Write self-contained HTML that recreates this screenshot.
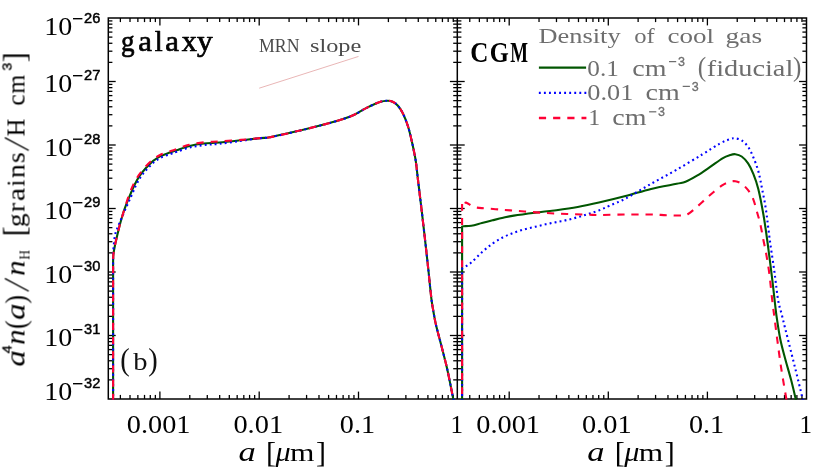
<!DOCTYPE html>
<html><head><meta charset="utf-8"><title>chart</title>
<style>html,body{margin:0;padding:0;background:#fff;}svg{display:block;}text{font-kerning:none;}</style></head>
<body>
<svg width="830" height="470" viewBox="0 0 830 470">
<defs>
<clipPath id="clipL"><rect x="108.3" y="18.0" width="349.00" height="381.70"/></clipPath>
<clipPath id="clipR"><rect x="457.3" y="18.0" width="349.20" height="381.70"/></clipPath>
</defs>
<rect x="0" y="0" width="830" height="470" fill="#fff"/>
<g opacity="0.999">
<line x1="259.20" y1="88.20" x2="358.50" y2="56.45" stroke="#e3a3a3" stroke-width="0.8" />
<rect x="108.3" y="18.0" width="698.20" height="381.00" fill="none" stroke="#000" stroke-width="1.5"/>
<line x1="457.30" y1="18.00" x2="457.30" y2="399.00" stroke="#000" stroke-width="1.5" />
<line x1="120.38" y1="399.00" x2="120.38" y2="394.90" stroke="#000" stroke-width="1.3" />
<line x1="120.38" y1="18.00" x2="120.38" y2="22.10" stroke="#000" stroke-width="1.3" />
<line x1="130.01" y1="399.00" x2="130.01" y2="394.90" stroke="#000" stroke-width="1.3" />
<line x1="130.01" y1="18.00" x2="130.01" y2="22.10" stroke="#000" stroke-width="1.3" />
<line x1="137.87" y1="399.00" x2="137.87" y2="394.90" stroke="#000" stroke-width="1.3" />
<line x1="137.87" y1="18.00" x2="137.87" y2="22.10" stroke="#000" stroke-width="1.3" />
<line x1="144.52" y1="399.00" x2="144.52" y2="394.90" stroke="#000" stroke-width="1.3" />
<line x1="144.52" y1="18.00" x2="144.52" y2="22.10" stroke="#000" stroke-width="1.3" />
<line x1="150.28" y1="399.00" x2="150.28" y2="394.90" stroke="#000" stroke-width="1.3" />
<line x1="150.28" y1="18.00" x2="150.28" y2="22.10" stroke="#000" stroke-width="1.3" />
<line x1="155.36" y1="399.00" x2="155.36" y2="394.90" stroke="#000" stroke-width="1.3" />
<line x1="155.36" y1="18.00" x2="155.36" y2="22.10" stroke="#000" stroke-width="1.3" />
<line x1="159.90" y1="399.00" x2="159.90" y2="391.60" stroke="#000" stroke-width="1.3" />
<line x1="159.90" y1="18.00" x2="159.90" y2="25.40" stroke="#000" stroke-width="1.3" />
<line x1="189.79" y1="399.00" x2="189.79" y2="394.90" stroke="#000" stroke-width="1.3" />
<line x1="189.79" y1="18.00" x2="189.79" y2="22.10" stroke="#000" stroke-width="1.3" />
<line x1="207.28" y1="399.00" x2="207.28" y2="394.90" stroke="#000" stroke-width="1.3" />
<line x1="207.28" y1="18.00" x2="207.28" y2="22.10" stroke="#000" stroke-width="1.3" />
<line x1="219.68" y1="399.00" x2="219.68" y2="394.90" stroke="#000" stroke-width="1.3" />
<line x1="219.68" y1="18.00" x2="219.68" y2="22.10" stroke="#000" stroke-width="1.3" />
<line x1="229.31" y1="399.00" x2="229.31" y2="394.90" stroke="#000" stroke-width="1.3" />
<line x1="229.31" y1="18.00" x2="229.31" y2="22.10" stroke="#000" stroke-width="1.3" />
<line x1="237.17" y1="399.00" x2="237.17" y2="394.90" stroke="#000" stroke-width="1.3" />
<line x1="237.17" y1="18.00" x2="237.17" y2="22.10" stroke="#000" stroke-width="1.3" />
<line x1="243.82" y1="399.00" x2="243.82" y2="394.90" stroke="#000" stroke-width="1.3" />
<line x1="243.82" y1="18.00" x2="243.82" y2="22.10" stroke="#000" stroke-width="1.3" />
<line x1="249.58" y1="399.00" x2="249.58" y2="394.90" stroke="#000" stroke-width="1.3" />
<line x1="249.58" y1="18.00" x2="249.58" y2="22.10" stroke="#000" stroke-width="1.3" />
<line x1="254.66" y1="399.00" x2="254.66" y2="394.90" stroke="#000" stroke-width="1.3" />
<line x1="254.66" y1="18.00" x2="254.66" y2="22.10" stroke="#000" stroke-width="1.3" />
<line x1="259.20" y1="399.00" x2="259.20" y2="391.60" stroke="#000" stroke-width="1.3" />
<line x1="259.20" y1="18.00" x2="259.20" y2="25.40" stroke="#000" stroke-width="1.3" />
<line x1="289.09" y1="399.00" x2="289.09" y2="394.90" stroke="#000" stroke-width="1.3" />
<line x1="289.09" y1="18.00" x2="289.09" y2="22.10" stroke="#000" stroke-width="1.3" />
<line x1="306.58" y1="399.00" x2="306.58" y2="394.90" stroke="#000" stroke-width="1.3" />
<line x1="306.58" y1="18.00" x2="306.58" y2="22.10" stroke="#000" stroke-width="1.3" />
<line x1="318.98" y1="399.00" x2="318.98" y2="394.90" stroke="#000" stroke-width="1.3" />
<line x1="318.98" y1="18.00" x2="318.98" y2="22.10" stroke="#000" stroke-width="1.3" />
<line x1="328.61" y1="399.00" x2="328.61" y2="394.90" stroke="#000" stroke-width="1.3" />
<line x1="328.61" y1="18.00" x2="328.61" y2="22.10" stroke="#000" stroke-width="1.3" />
<line x1="336.47" y1="399.00" x2="336.47" y2="394.90" stroke="#000" stroke-width="1.3" />
<line x1="336.47" y1="18.00" x2="336.47" y2="22.10" stroke="#000" stroke-width="1.3" />
<line x1="343.12" y1="399.00" x2="343.12" y2="394.90" stroke="#000" stroke-width="1.3" />
<line x1="343.12" y1="18.00" x2="343.12" y2="22.10" stroke="#000" stroke-width="1.3" />
<line x1="348.88" y1="399.00" x2="348.88" y2="394.90" stroke="#000" stroke-width="1.3" />
<line x1="348.88" y1="18.00" x2="348.88" y2="22.10" stroke="#000" stroke-width="1.3" />
<line x1="353.96" y1="399.00" x2="353.96" y2="394.90" stroke="#000" stroke-width="1.3" />
<line x1="353.96" y1="18.00" x2="353.96" y2="22.10" stroke="#000" stroke-width="1.3" />
<line x1="358.50" y1="399.00" x2="358.50" y2="391.60" stroke="#000" stroke-width="1.3" />
<line x1="358.50" y1="18.00" x2="358.50" y2="25.40" stroke="#000" stroke-width="1.3" />
<line x1="388.39" y1="399.00" x2="388.39" y2="394.90" stroke="#000" stroke-width="1.3" />
<line x1="388.39" y1="18.00" x2="388.39" y2="22.10" stroke="#000" stroke-width="1.3" />
<line x1="405.88" y1="399.00" x2="405.88" y2="394.90" stroke="#000" stroke-width="1.3" />
<line x1="405.88" y1="18.00" x2="405.88" y2="22.10" stroke="#000" stroke-width="1.3" />
<line x1="418.28" y1="399.00" x2="418.28" y2="394.90" stroke="#000" stroke-width="1.3" />
<line x1="418.28" y1="18.00" x2="418.28" y2="22.10" stroke="#000" stroke-width="1.3" />
<line x1="427.91" y1="399.00" x2="427.91" y2="394.90" stroke="#000" stroke-width="1.3" />
<line x1="427.91" y1="18.00" x2="427.91" y2="22.10" stroke="#000" stroke-width="1.3" />
<line x1="435.77" y1="399.00" x2="435.77" y2="394.90" stroke="#000" stroke-width="1.3" />
<line x1="435.77" y1="18.00" x2="435.77" y2="22.10" stroke="#000" stroke-width="1.3" />
<line x1="442.42" y1="399.00" x2="442.42" y2="394.90" stroke="#000" stroke-width="1.3" />
<line x1="442.42" y1="18.00" x2="442.42" y2="22.10" stroke="#000" stroke-width="1.3" />
<line x1="448.18" y1="399.00" x2="448.18" y2="394.90" stroke="#000" stroke-width="1.3" />
<line x1="448.18" y1="18.00" x2="448.18" y2="22.10" stroke="#000" stroke-width="1.3" />
<line x1="453.26" y1="399.00" x2="453.26" y2="394.90" stroke="#000" stroke-width="1.3" />
<line x1="453.26" y1="18.00" x2="453.26" y2="22.10" stroke="#000" stroke-width="1.3" />
<line x1="469.76" y1="399.00" x2="469.76" y2="394.90" stroke="#000" stroke-width="1.3" />
<line x1="469.76" y1="18.00" x2="469.76" y2="22.10" stroke="#000" stroke-width="1.3" />
<line x1="479.37" y1="399.00" x2="479.37" y2="394.90" stroke="#000" stroke-width="1.3" />
<line x1="479.37" y1="18.00" x2="479.37" y2="22.10" stroke="#000" stroke-width="1.3" />
<line x1="487.21" y1="399.00" x2="487.21" y2="394.90" stroke="#000" stroke-width="1.3" />
<line x1="487.21" y1="18.00" x2="487.21" y2="22.10" stroke="#000" stroke-width="1.3" />
<line x1="493.85" y1="399.00" x2="493.85" y2="394.90" stroke="#000" stroke-width="1.3" />
<line x1="493.85" y1="18.00" x2="493.85" y2="22.10" stroke="#000" stroke-width="1.3" />
<line x1="499.60" y1="399.00" x2="499.60" y2="394.90" stroke="#000" stroke-width="1.3" />
<line x1="499.60" y1="18.00" x2="499.60" y2="22.10" stroke="#000" stroke-width="1.3" />
<line x1="504.67" y1="399.00" x2="504.67" y2="394.90" stroke="#000" stroke-width="1.3" />
<line x1="504.67" y1="18.00" x2="504.67" y2="22.10" stroke="#000" stroke-width="1.3" />
<line x1="509.20" y1="399.00" x2="509.20" y2="391.60" stroke="#000" stroke-width="1.3" />
<line x1="509.20" y1="18.00" x2="509.20" y2="25.40" stroke="#000" stroke-width="1.3" />
<line x1="539.03" y1="399.00" x2="539.03" y2="394.90" stroke="#000" stroke-width="1.3" />
<line x1="539.03" y1="18.00" x2="539.03" y2="22.10" stroke="#000" stroke-width="1.3" />
<line x1="556.48" y1="399.00" x2="556.48" y2="394.90" stroke="#000" stroke-width="1.3" />
<line x1="556.48" y1="18.00" x2="556.48" y2="22.10" stroke="#000" stroke-width="1.3" />
<line x1="568.86" y1="399.00" x2="568.86" y2="394.90" stroke="#000" stroke-width="1.3" />
<line x1="568.86" y1="18.00" x2="568.86" y2="22.10" stroke="#000" stroke-width="1.3" />
<line x1="578.47" y1="399.00" x2="578.47" y2="394.90" stroke="#000" stroke-width="1.3" />
<line x1="578.47" y1="18.00" x2="578.47" y2="22.10" stroke="#000" stroke-width="1.3" />
<line x1="586.31" y1="399.00" x2="586.31" y2="394.90" stroke="#000" stroke-width="1.3" />
<line x1="586.31" y1="18.00" x2="586.31" y2="22.10" stroke="#000" stroke-width="1.3" />
<line x1="592.95" y1="399.00" x2="592.95" y2="394.90" stroke="#000" stroke-width="1.3" />
<line x1="592.95" y1="18.00" x2="592.95" y2="22.10" stroke="#000" stroke-width="1.3" />
<line x1="598.70" y1="399.00" x2="598.70" y2="394.90" stroke="#000" stroke-width="1.3" />
<line x1="598.70" y1="18.00" x2="598.70" y2="22.10" stroke="#000" stroke-width="1.3" />
<line x1="603.77" y1="399.00" x2="603.77" y2="394.90" stroke="#000" stroke-width="1.3" />
<line x1="603.77" y1="18.00" x2="603.77" y2="22.10" stroke="#000" stroke-width="1.3" />
<line x1="608.30" y1="399.00" x2="608.30" y2="391.60" stroke="#000" stroke-width="1.3" />
<line x1="608.30" y1="18.00" x2="608.30" y2="25.40" stroke="#000" stroke-width="1.3" />
<line x1="638.13" y1="399.00" x2="638.13" y2="394.90" stroke="#000" stroke-width="1.3" />
<line x1="638.13" y1="18.00" x2="638.13" y2="22.10" stroke="#000" stroke-width="1.3" />
<line x1="655.58" y1="399.00" x2="655.58" y2="394.90" stroke="#000" stroke-width="1.3" />
<line x1="655.58" y1="18.00" x2="655.58" y2="22.10" stroke="#000" stroke-width="1.3" />
<line x1="667.96" y1="399.00" x2="667.96" y2="394.90" stroke="#000" stroke-width="1.3" />
<line x1="667.96" y1="18.00" x2="667.96" y2="22.10" stroke="#000" stroke-width="1.3" />
<line x1="677.57" y1="399.00" x2="677.57" y2="394.90" stroke="#000" stroke-width="1.3" />
<line x1="677.57" y1="18.00" x2="677.57" y2="22.10" stroke="#000" stroke-width="1.3" />
<line x1="685.41" y1="399.00" x2="685.41" y2="394.90" stroke="#000" stroke-width="1.3" />
<line x1="685.41" y1="18.00" x2="685.41" y2="22.10" stroke="#000" stroke-width="1.3" />
<line x1="692.05" y1="399.00" x2="692.05" y2="394.90" stroke="#000" stroke-width="1.3" />
<line x1="692.05" y1="18.00" x2="692.05" y2="22.10" stroke="#000" stroke-width="1.3" />
<line x1="697.80" y1="399.00" x2="697.80" y2="394.90" stroke="#000" stroke-width="1.3" />
<line x1="697.80" y1="18.00" x2="697.80" y2="22.10" stroke="#000" stroke-width="1.3" />
<line x1="702.87" y1="399.00" x2="702.87" y2="394.90" stroke="#000" stroke-width="1.3" />
<line x1="702.87" y1="18.00" x2="702.87" y2="22.10" stroke="#000" stroke-width="1.3" />
<line x1="707.40" y1="399.00" x2="707.40" y2="391.60" stroke="#000" stroke-width="1.3" />
<line x1="707.40" y1="18.00" x2="707.40" y2="25.40" stroke="#000" stroke-width="1.3" />
<line x1="737.23" y1="399.00" x2="737.23" y2="394.90" stroke="#000" stroke-width="1.3" />
<line x1="737.23" y1="18.00" x2="737.23" y2="22.10" stroke="#000" stroke-width="1.3" />
<line x1="754.68" y1="399.00" x2="754.68" y2="394.90" stroke="#000" stroke-width="1.3" />
<line x1="754.68" y1="18.00" x2="754.68" y2="22.10" stroke="#000" stroke-width="1.3" />
<line x1="767.06" y1="399.00" x2="767.06" y2="394.90" stroke="#000" stroke-width="1.3" />
<line x1="767.06" y1="18.00" x2="767.06" y2="22.10" stroke="#000" stroke-width="1.3" />
<line x1="776.67" y1="399.00" x2="776.67" y2="394.90" stroke="#000" stroke-width="1.3" />
<line x1="776.67" y1="18.00" x2="776.67" y2="22.10" stroke="#000" stroke-width="1.3" />
<line x1="784.51" y1="399.00" x2="784.51" y2="394.90" stroke="#000" stroke-width="1.3" />
<line x1="784.51" y1="18.00" x2="784.51" y2="22.10" stroke="#000" stroke-width="1.3" />
<line x1="791.15" y1="399.00" x2="791.15" y2="394.90" stroke="#000" stroke-width="1.3" />
<line x1="791.15" y1="18.00" x2="791.15" y2="22.10" stroke="#000" stroke-width="1.3" />
<line x1="796.90" y1="399.00" x2="796.90" y2="394.90" stroke="#000" stroke-width="1.3" />
<line x1="796.90" y1="18.00" x2="796.90" y2="22.10" stroke="#000" stroke-width="1.3" />
<line x1="801.97" y1="399.00" x2="801.97" y2="394.90" stroke="#000" stroke-width="1.3" />
<line x1="801.97" y1="18.00" x2="801.97" y2="22.10" stroke="#000" stroke-width="1.3" />
<line x1="108.30" y1="379.88" x2="112.40" y2="379.88" stroke="#000" stroke-width="1.3" />
<line x1="453.20" y1="379.88" x2="461.40" y2="379.88" stroke="#000" stroke-width="1.3" />
<line x1="802.40" y1="379.88" x2="806.50" y2="379.88" stroke="#000" stroke-width="1.3" />
<line x1="108.30" y1="368.70" x2="112.40" y2="368.70" stroke="#000" stroke-width="1.3" />
<line x1="453.20" y1="368.70" x2="461.40" y2="368.70" stroke="#000" stroke-width="1.3" />
<line x1="802.40" y1="368.70" x2="806.50" y2="368.70" stroke="#000" stroke-width="1.3" />
<line x1="108.30" y1="360.77" x2="112.40" y2="360.77" stroke="#000" stroke-width="1.3" />
<line x1="453.20" y1="360.77" x2="461.40" y2="360.77" stroke="#000" stroke-width="1.3" />
<line x1="802.40" y1="360.77" x2="806.50" y2="360.77" stroke="#000" stroke-width="1.3" />
<line x1="108.30" y1="354.62" x2="112.40" y2="354.62" stroke="#000" stroke-width="1.3" />
<line x1="453.20" y1="354.62" x2="461.40" y2="354.62" stroke="#000" stroke-width="1.3" />
<line x1="802.40" y1="354.62" x2="806.50" y2="354.62" stroke="#000" stroke-width="1.3" />
<line x1="108.30" y1="349.59" x2="112.40" y2="349.59" stroke="#000" stroke-width="1.3" />
<line x1="453.20" y1="349.59" x2="461.40" y2="349.59" stroke="#000" stroke-width="1.3" />
<line x1="802.40" y1="349.59" x2="806.50" y2="349.59" stroke="#000" stroke-width="1.3" />
<line x1="108.30" y1="345.34" x2="112.40" y2="345.34" stroke="#000" stroke-width="1.3" />
<line x1="453.20" y1="345.34" x2="461.40" y2="345.34" stroke="#000" stroke-width="1.3" />
<line x1="802.40" y1="345.34" x2="806.50" y2="345.34" stroke="#000" stroke-width="1.3" />
<line x1="108.30" y1="341.65" x2="112.40" y2="341.65" stroke="#000" stroke-width="1.3" />
<line x1="453.20" y1="341.65" x2="461.40" y2="341.65" stroke="#000" stroke-width="1.3" />
<line x1="802.40" y1="341.65" x2="806.50" y2="341.65" stroke="#000" stroke-width="1.3" />
<line x1="108.30" y1="338.41" x2="112.40" y2="338.41" stroke="#000" stroke-width="1.3" />
<line x1="453.20" y1="338.41" x2="461.40" y2="338.41" stroke="#000" stroke-width="1.3" />
<line x1="802.40" y1="338.41" x2="806.50" y2="338.41" stroke="#000" stroke-width="1.3" />
<line x1="108.30" y1="335.50" x2="115.70" y2="335.50" stroke="#000" stroke-width="1.3" />
<line x1="449.90" y1="335.50" x2="464.70" y2="335.50" stroke="#000" stroke-width="1.3" />
<line x1="799.10" y1="335.50" x2="806.50" y2="335.50" stroke="#000" stroke-width="1.3" />
<line x1="108.30" y1="316.38" x2="112.40" y2="316.38" stroke="#000" stroke-width="1.3" />
<line x1="453.20" y1="316.38" x2="461.40" y2="316.38" stroke="#000" stroke-width="1.3" />
<line x1="802.40" y1="316.38" x2="806.50" y2="316.38" stroke="#000" stroke-width="1.3" />
<line x1="108.30" y1="305.20" x2="112.40" y2="305.20" stroke="#000" stroke-width="1.3" />
<line x1="453.20" y1="305.20" x2="461.40" y2="305.20" stroke="#000" stroke-width="1.3" />
<line x1="802.40" y1="305.20" x2="806.50" y2="305.20" stroke="#000" stroke-width="1.3" />
<line x1="108.30" y1="297.27" x2="112.40" y2="297.27" stroke="#000" stroke-width="1.3" />
<line x1="453.20" y1="297.27" x2="461.40" y2="297.27" stroke="#000" stroke-width="1.3" />
<line x1="802.40" y1="297.27" x2="806.50" y2="297.27" stroke="#000" stroke-width="1.3" />
<line x1="108.30" y1="291.12" x2="112.40" y2="291.12" stroke="#000" stroke-width="1.3" />
<line x1="453.20" y1="291.12" x2="461.40" y2="291.12" stroke="#000" stroke-width="1.3" />
<line x1="802.40" y1="291.12" x2="806.50" y2="291.12" stroke="#000" stroke-width="1.3" />
<line x1="108.30" y1="286.09" x2="112.40" y2="286.09" stroke="#000" stroke-width="1.3" />
<line x1="453.20" y1="286.09" x2="461.40" y2="286.09" stroke="#000" stroke-width="1.3" />
<line x1="802.40" y1="286.09" x2="806.50" y2="286.09" stroke="#000" stroke-width="1.3" />
<line x1="108.30" y1="281.84" x2="112.40" y2="281.84" stroke="#000" stroke-width="1.3" />
<line x1="453.20" y1="281.84" x2="461.40" y2="281.84" stroke="#000" stroke-width="1.3" />
<line x1="802.40" y1="281.84" x2="806.50" y2="281.84" stroke="#000" stroke-width="1.3" />
<line x1="108.30" y1="278.15" x2="112.40" y2="278.15" stroke="#000" stroke-width="1.3" />
<line x1="453.20" y1="278.15" x2="461.40" y2="278.15" stroke="#000" stroke-width="1.3" />
<line x1="802.40" y1="278.15" x2="806.50" y2="278.15" stroke="#000" stroke-width="1.3" />
<line x1="108.30" y1="274.91" x2="112.40" y2="274.91" stroke="#000" stroke-width="1.3" />
<line x1="453.20" y1="274.91" x2="461.40" y2="274.91" stroke="#000" stroke-width="1.3" />
<line x1="802.40" y1="274.91" x2="806.50" y2="274.91" stroke="#000" stroke-width="1.3" />
<line x1="108.30" y1="272.00" x2="115.70" y2="272.00" stroke="#000" stroke-width="1.3" />
<line x1="449.90" y1="272.00" x2="464.70" y2="272.00" stroke="#000" stroke-width="1.3" />
<line x1="799.10" y1="272.00" x2="806.50" y2="272.00" stroke="#000" stroke-width="1.3" />
<line x1="108.30" y1="252.88" x2="112.40" y2="252.88" stroke="#000" stroke-width="1.3" />
<line x1="453.20" y1="252.88" x2="461.40" y2="252.88" stroke="#000" stroke-width="1.3" />
<line x1="802.40" y1="252.88" x2="806.50" y2="252.88" stroke="#000" stroke-width="1.3" />
<line x1="108.30" y1="241.70" x2="112.40" y2="241.70" stroke="#000" stroke-width="1.3" />
<line x1="453.20" y1="241.70" x2="461.40" y2="241.70" stroke="#000" stroke-width="1.3" />
<line x1="802.40" y1="241.70" x2="806.50" y2="241.70" stroke="#000" stroke-width="1.3" />
<line x1="108.30" y1="233.77" x2="112.40" y2="233.77" stroke="#000" stroke-width="1.3" />
<line x1="453.20" y1="233.77" x2="461.40" y2="233.77" stroke="#000" stroke-width="1.3" />
<line x1="802.40" y1="233.77" x2="806.50" y2="233.77" stroke="#000" stroke-width="1.3" />
<line x1="108.30" y1="227.62" x2="112.40" y2="227.62" stroke="#000" stroke-width="1.3" />
<line x1="453.20" y1="227.62" x2="461.40" y2="227.62" stroke="#000" stroke-width="1.3" />
<line x1="802.40" y1="227.62" x2="806.50" y2="227.62" stroke="#000" stroke-width="1.3" />
<line x1="108.30" y1="222.59" x2="112.40" y2="222.59" stroke="#000" stroke-width="1.3" />
<line x1="453.20" y1="222.59" x2="461.40" y2="222.59" stroke="#000" stroke-width="1.3" />
<line x1="802.40" y1="222.59" x2="806.50" y2="222.59" stroke="#000" stroke-width="1.3" />
<line x1="108.30" y1="218.34" x2="112.40" y2="218.34" stroke="#000" stroke-width="1.3" />
<line x1="453.20" y1="218.34" x2="461.40" y2="218.34" stroke="#000" stroke-width="1.3" />
<line x1="802.40" y1="218.34" x2="806.50" y2="218.34" stroke="#000" stroke-width="1.3" />
<line x1="108.30" y1="214.65" x2="112.40" y2="214.65" stroke="#000" stroke-width="1.3" />
<line x1="453.20" y1="214.65" x2="461.40" y2="214.65" stroke="#000" stroke-width="1.3" />
<line x1="802.40" y1="214.65" x2="806.50" y2="214.65" stroke="#000" stroke-width="1.3" />
<line x1="108.30" y1="211.41" x2="112.40" y2="211.41" stroke="#000" stroke-width="1.3" />
<line x1="453.20" y1="211.41" x2="461.40" y2="211.41" stroke="#000" stroke-width="1.3" />
<line x1="802.40" y1="211.41" x2="806.50" y2="211.41" stroke="#000" stroke-width="1.3" />
<line x1="108.30" y1="208.50" x2="115.70" y2="208.50" stroke="#000" stroke-width="1.3" />
<line x1="449.90" y1="208.50" x2="464.70" y2="208.50" stroke="#000" stroke-width="1.3" />
<line x1="799.10" y1="208.50" x2="806.50" y2="208.50" stroke="#000" stroke-width="1.3" />
<line x1="108.30" y1="189.38" x2="112.40" y2="189.38" stroke="#000" stroke-width="1.3" />
<line x1="453.20" y1="189.38" x2="461.40" y2="189.38" stroke="#000" stroke-width="1.3" />
<line x1="802.40" y1="189.38" x2="806.50" y2="189.38" stroke="#000" stroke-width="1.3" />
<line x1="108.30" y1="178.20" x2="112.40" y2="178.20" stroke="#000" stroke-width="1.3" />
<line x1="453.20" y1="178.20" x2="461.40" y2="178.20" stroke="#000" stroke-width="1.3" />
<line x1="802.40" y1="178.20" x2="806.50" y2="178.20" stroke="#000" stroke-width="1.3" />
<line x1="108.30" y1="170.27" x2="112.40" y2="170.27" stroke="#000" stroke-width="1.3" />
<line x1="453.20" y1="170.27" x2="461.40" y2="170.27" stroke="#000" stroke-width="1.3" />
<line x1="802.40" y1="170.27" x2="806.50" y2="170.27" stroke="#000" stroke-width="1.3" />
<line x1="108.30" y1="164.12" x2="112.40" y2="164.12" stroke="#000" stroke-width="1.3" />
<line x1="453.20" y1="164.12" x2="461.40" y2="164.12" stroke="#000" stroke-width="1.3" />
<line x1="802.40" y1="164.12" x2="806.50" y2="164.12" stroke="#000" stroke-width="1.3" />
<line x1="108.30" y1="159.09" x2="112.40" y2="159.09" stroke="#000" stroke-width="1.3" />
<line x1="453.20" y1="159.09" x2="461.40" y2="159.09" stroke="#000" stroke-width="1.3" />
<line x1="802.40" y1="159.09" x2="806.50" y2="159.09" stroke="#000" stroke-width="1.3" />
<line x1="108.30" y1="154.84" x2="112.40" y2="154.84" stroke="#000" stroke-width="1.3" />
<line x1="453.20" y1="154.84" x2="461.40" y2="154.84" stroke="#000" stroke-width="1.3" />
<line x1="802.40" y1="154.84" x2="806.50" y2="154.84" stroke="#000" stroke-width="1.3" />
<line x1="108.30" y1="151.15" x2="112.40" y2="151.15" stroke="#000" stroke-width="1.3" />
<line x1="453.20" y1="151.15" x2="461.40" y2="151.15" stroke="#000" stroke-width="1.3" />
<line x1="802.40" y1="151.15" x2="806.50" y2="151.15" stroke="#000" stroke-width="1.3" />
<line x1="108.30" y1="147.91" x2="112.40" y2="147.91" stroke="#000" stroke-width="1.3" />
<line x1="453.20" y1="147.91" x2="461.40" y2="147.91" stroke="#000" stroke-width="1.3" />
<line x1="802.40" y1="147.91" x2="806.50" y2="147.91" stroke="#000" stroke-width="1.3" />
<line x1="108.30" y1="145.00" x2="115.70" y2="145.00" stroke="#000" stroke-width="1.3" />
<line x1="449.90" y1="145.00" x2="464.70" y2="145.00" stroke="#000" stroke-width="1.3" />
<line x1="799.10" y1="145.00" x2="806.50" y2="145.00" stroke="#000" stroke-width="1.3" />
<line x1="108.30" y1="125.88" x2="112.40" y2="125.88" stroke="#000" stroke-width="1.3" />
<line x1="453.20" y1="125.88" x2="461.40" y2="125.88" stroke="#000" stroke-width="1.3" />
<line x1="802.40" y1="125.88" x2="806.50" y2="125.88" stroke="#000" stroke-width="1.3" />
<line x1="108.30" y1="114.70" x2="112.40" y2="114.70" stroke="#000" stroke-width="1.3" />
<line x1="453.20" y1="114.70" x2="461.40" y2="114.70" stroke="#000" stroke-width="1.3" />
<line x1="802.40" y1="114.70" x2="806.50" y2="114.70" stroke="#000" stroke-width="1.3" />
<line x1="108.30" y1="106.77" x2="112.40" y2="106.77" stroke="#000" stroke-width="1.3" />
<line x1="453.20" y1="106.77" x2="461.40" y2="106.77" stroke="#000" stroke-width="1.3" />
<line x1="802.40" y1="106.77" x2="806.50" y2="106.77" stroke="#000" stroke-width="1.3" />
<line x1="108.30" y1="100.62" x2="112.40" y2="100.62" stroke="#000" stroke-width="1.3" />
<line x1="453.20" y1="100.62" x2="461.40" y2="100.62" stroke="#000" stroke-width="1.3" />
<line x1="802.40" y1="100.62" x2="806.50" y2="100.62" stroke="#000" stroke-width="1.3" />
<line x1="108.30" y1="95.59" x2="112.40" y2="95.59" stroke="#000" stroke-width="1.3" />
<line x1="453.20" y1="95.59" x2="461.40" y2="95.59" stroke="#000" stroke-width="1.3" />
<line x1="802.40" y1="95.59" x2="806.50" y2="95.59" stroke="#000" stroke-width="1.3" />
<line x1="108.30" y1="91.34" x2="112.40" y2="91.34" stroke="#000" stroke-width="1.3" />
<line x1="453.20" y1="91.34" x2="461.40" y2="91.34" stroke="#000" stroke-width="1.3" />
<line x1="802.40" y1="91.34" x2="806.50" y2="91.34" stroke="#000" stroke-width="1.3" />
<line x1="108.30" y1="87.65" x2="112.40" y2="87.65" stroke="#000" stroke-width="1.3" />
<line x1="453.20" y1="87.65" x2="461.40" y2="87.65" stroke="#000" stroke-width="1.3" />
<line x1="802.40" y1="87.65" x2="806.50" y2="87.65" stroke="#000" stroke-width="1.3" />
<line x1="108.30" y1="84.41" x2="112.40" y2="84.41" stroke="#000" stroke-width="1.3" />
<line x1="453.20" y1="84.41" x2="461.40" y2="84.41" stroke="#000" stroke-width="1.3" />
<line x1="802.40" y1="84.41" x2="806.50" y2="84.41" stroke="#000" stroke-width="1.3" />
<line x1="108.30" y1="81.50" x2="115.70" y2="81.50" stroke="#000" stroke-width="1.3" />
<line x1="449.90" y1="81.50" x2="464.70" y2="81.50" stroke="#000" stroke-width="1.3" />
<line x1="799.10" y1="81.50" x2="806.50" y2="81.50" stroke="#000" stroke-width="1.3" />
<line x1="108.30" y1="62.38" x2="112.40" y2="62.38" stroke="#000" stroke-width="1.3" />
<line x1="453.20" y1="62.38" x2="461.40" y2="62.38" stroke="#000" stroke-width="1.3" />
<line x1="802.40" y1="62.38" x2="806.50" y2="62.38" stroke="#000" stroke-width="1.3" />
<line x1="108.30" y1="51.20" x2="112.40" y2="51.20" stroke="#000" stroke-width="1.3" />
<line x1="453.20" y1="51.20" x2="461.40" y2="51.20" stroke="#000" stroke-width="1.3" />
<line x1="802.40" y1="51.20" x2="806.50" y2="51.20" stroke="#000" stroke-width="1.3" />
<line x1="108.30" y1="43.27" x2="112.40" y2="43.27" stroke="#000" stroke-width="1.3" />
<line x1="453.20" y1="43.27" x2="461.40" y2="43.27" stroke="#000" stroke-width="1.3" />
<line x1="802.40" y1="43.27" x2="806.50" y2="43.27" stroke="#000" stroke-width="1.3" />
<line x1="108.30" y1="37.12" x2="112.40" y2="37.12" stroke="#000" stroke-width="1.3" />
<line x1="453.20" y1="37.12" x2="461.40" y2="37.12" stroke="#000" stroke-width="1.3" />
<line x1="802.40" y1="37.12" x2="806.50" y2="37.12" stroke="#000" stroke-width="1.3" />
<line x1="108.30" y1="32.09" x2="112.40" y2="32.09" stroke="#000" stroke-width="1.3" />
<line x1="453.20" y1="32.09" x2="461.40" y2="32.09" stroke="#000" stroke-width="1.3" />
<line x1="802.40" y1="32.09" x2="806.50" y2="32.09" stroke="#000" stroke-width="1.3" />
<line x1="108.30" y1="27.84" x2="112.40" y2="27.84" stroke="#000" stroke-width="1.3" />
<line x1="453.20" y1="27.84" x2="461.40" y2="27.84" stroke="#000" stroke-width="1.3" />
<line x1="802.40" y1="27.84" x2="806.50" y2="27.84" stroke="#000" stroke-width="1.3" />
<line x1="108.30" y1="24.15" x2="112.40" y2="24.15" stroke="#000" stroke-width="1.3" />
<line x1="453.20" y1="24.15" x2="461.40" y2="24.15" stroke="#000" stroke-width="1.3" />
<line x1="802.40" y1="24.15" x2="806.50" y2="24.15" stroke="#000" stroke-width="1.3" />
<line x1="108.30" y1="20.91" x2="112.40" y2="20.91" stroke="#000" stroke-width="1.3" />
<line x1="453.20" y1="20.91" x2="461.40" y2="20.91" stroke="#000" stroke-width="1.3" />
<line x1="802.40" y1="20.91" x2="806.50" y2="20.91" stroke="#000" stroke-width="1.3" />
<g clip-path="url(#clipL)">
<path d="M113.10,401.00 L113.10,264.00 L113.10,262.00 C113.15,260.73 113.12,257.03 113.40,254.40 C113.68,251.77 114.12,249.55 114.80,246.20 C115.48,242.85 116.62,238.03 117.50,234.30 C118.38,230.57 118.98,227.85 120.10,223.80 C121.22,219.75 122.65,214.53 124.20,210.00 C125.75,205.47 127.67,200.82 129.40,196.60 C131.13,192.38 132.87,188.18 134.60,184.70 C136.33,181.22 137.95,178.43 139.80,175.70 C141.65,172.97 143.47,170.77 145.70,168.30 C147.93,165.83 150.72,162.93 153.20,160.90 C155.68,158.87 157.80,157.48 160.60,156.10 C163.40,154.72 167.35,153.57 170.00,152.60 C172.65,151.63 173.25,151.40 176.50,150.30 C179.75,149.20 184.90,147.13 189.50,146.00 C194.10,144.87 199.13,144.08 204.10,143.50 C209.07,142.92 213.15,143.03 219.30,142.50 C225.45,141.97 234.13,141.03 241.00,140.30 C247.87,139.57 255.67,138.62 260.50,138.10 C265.33,137.58 264.17,138.28 270.00,137.20 C275.83,136.12 286.98,133.58 295.50,131.60 C304.02,129.62 313.43,127.30 321.10,125.30 C328.77,123.30 335.97,121.35 341.50,119.60 C347.03,117.85 350.03,116.80 354.30,114.80 C358.57,112.80 362.85,109.73 367.10,107.60 C371.35,105.47 376.40,103.15 379.80,102.00 C383.20,100.85 385.37,100.75 387.50,100.70 C389.63,100.65 390.90,100.90 392.60,101.70 C394.30,102.50 396.00,103.58 397.70,105.50 C399.40,107.42 401.10,109.78 402.80,113.20 C404.50,116.62 406.40,121.32 407.90,126.00 C409.40,130.68 410.52,135.63 411.80,141.30 C413.08,146.97 414.57,153.55 415.60,160.00 C416.63,166.45 416.98,171.55 418.00,180.00 C419.02,188.45 420.45,200.05 421.70,210.70 C422.95,221.35 424.35,233.68 425.50,243.90 C426.65,254.12 427.62,262.85 428.60,272.00 C429.58,281.15 430.58,292.13 431.40,298.80 C432.22,305.47 432.73,307.63 433.50,312.00 C434.27,316.37 434.78,319.73 436.00,325.00 C437.22,330.27 438.93,336.25 440.80,343.60 C442.67,350.95 445.12,359.83 447.20,369.10 C449.28,378.37 452.21,393.80 453.30,399.20 C454.39,404.60 453.69,401.12 453.77,401.50" fill="none" stroke="#005600" stroke-width="2.1" stroke-linejoin="round" stroke-linecap="butt" />
<path d="M113.10,401.00 L113.10,264.00 L113.08,262.00 C113.10,260.73 113.08,257.05 113.18,254.38 C113.29,251.71 113.35,249.41 113.71,245.98 C114.06,242.54 114.37,237.51 115.31,233.78 C116.24,230.05 117.71,227.51 119.31,223.58 C120.91,219.66 123.00,214.64 124.91,210.24 C126.82,205.84 128.95,201.32 130.79,197.17 C132.63,193.02 134.23,188.81 135.94,185.37 C137.65,181.93 139.23,179.22 141.04,176.54 C142.85,173.86 144.63,171.72 146.81,169.31 C149.00,166.89 151.74,164.04 154.15,162.06 C156.56,160.08 158.54,158.79 161.26,157.44 C163.99,156.10 167.89,154.96 170.51,154.01 C173.13,153.06 173.76,152.81 176.98,151.72 C180.21,150.63 185.31,148.58 189.86,147.46 C194.41,146.33 199.35,145.59 204.27,144.99 C209.20,144.39 213.29,144.53 219.42,143.83 C225.55,143.14 234.21,141.78 241.06,140.82 C247.90,139.87 255.68,138.70 260.50,138.10 C265.32,137.50 264.17,138.28 270.00,137.20 C275.83,136.12 286.98,133.58 295.50,131.60 C304.02,129.62 313.43,127.30 321.10,125.30 C328.77,123.30 335.97,121.35 341.50,119.60 C347.03,117.85 350.03,116.80 354.30,114.80 C358.57,112.80 362.85,109.73 367.10,107.60 C371.35,105.47 376.40,103.15 379.80,102.00 C383.20,100.85 385.37,100.75 387.50,100.70 C389.63,100.65 390.90,100.90 392.60,101.70 C394.30,102.50 396.00,103.58 397.70,105.50 C399.40,107.42 401.10,109.78 402.80,113.20 C404.50,116.62 406.40,121.32 407.90,126.00 C409.40,130.68 410.52,135.63 411.80,141.30 C413.08,146.97 414.57,153.55 415.60,160.00 C416.63,166.45 416.98,171.55 418.00,180.00 C419.02,188.45 420.45,200.05 421.70,210.70 C422.95,221.35 424.35,233.68 425.50,243.90 C426.65,254.12 427.62,262.85 428.60,272.00 C429.58,281.15 430.58,292.13 431.40,298.80 C432.22,305.47 432.73,307.63 433.50,312.00 C434.27,316.37 434.78,319.73 436.00,325.00 C437.22,330.27 438.93,336.25 440.80,343.60 C442.67,350.95 445.12,359.83 447.20,369.10 C449.28,378.37 452.21,393.80 453.30,399.20 C454.39,404.60 453.69,401.12 453.77,401.50" fill="none" stroke="#0000ff" stroke-width="2.1" stroke-linejoin="round" stroke-linecap="butt" stroke-dasharray="1.9 3.16"/>
<path d="M113.10,401.00 L113.10,264.00 L113.10,262.00 C113.15,260.73 113.12,257.03 113.40,254.40 C113.68,251.77 114.12,249.55 114.80,246.20 C115.48,242.85 116.62,238.03 117.50,234.30 C118.38,230.57 118.98,227.85 120.10,223.80 C121.22,219.75 122.78,214.59 124.20,210.00 C125.62,205.41 127.07,200.59 128.62,196.28 C130.18,191.97 131.83,187.71 133.53,184.17 C135.22,180.62 136.93,177.81 138.81,175.03 C140.69,172.25 142.54,170.00 144.81,167.49 C147.08,164.99 149.90,162.05 152.44,159.97 C154.98,157.89 157.21,156.44 160.07,155.02 C162.93,153.61 166.91,152.45 169.59,151.47 C172.26,150.50 172.84,150.27 176.12,149.16 C179.39,148.06 184.57,145.98 189.21,144.83 C193.85,143.69 198.96,142.88 203.96,142.31 C208.96,141.74 213.04,141.84 219.21,141.43 C225.37,141.03 234.07,140.44 240.96,139.88 C247.84,139.33 255.66,138.55 260.50,138.10 C265.34,137.65 264.17,138.28 270.00,137.20 C275.83,136.12 286.98,133.58 295.50,131.60 C304.02,129.62 313.43,127.30 321.10,125.30 C328.77,123.30 335.97,121.35 341.50,119.60 C347.03,117.85 350.03,116.80 354.30,114.80 C358.57,112.80 362.85,109.73 367.10,107.60 C371.35,105.47 376.40,103.15 379.80,102.00 C383.20,100.85 385.37,100.75 387.50,100.70 C389.63,100.65 390.90,100.90 392.60,101.70 C394.30,102.50 396.00,103.58 397.70,105.50 C399.40,107.42 401.10,109.78 402.80,113.20 C404.50,116.62 406.40,121.32 407.90,126.00 C409.40,130.68 410.52,135.63 411.80,141.30 C413.08,146.97 414.57,153.55 415.60,160.00 C416.63,166.45 416.98,171.55 418.00,180.00 C419.02,188.45 420.45,200.05 421.70,210.70 C422.95,221.35 424.35,233.68 425.50,243.90 C426.65,254.12 427.62,262.85 428.60,272.00 C429.58,281.15 430.58,292.13 431.40,298.80 C432.22,305.47 432.73,307.63 433.50,312.00 C434.27,316.37 434.78,319.73 436.00,325.00 C437.22,330.27 438.93,336.25 440.80,343.60 C442.67,350.95 445.12,359.83 447.20,369.10 C449.28,378.37 452.21,393.80 453.30,399.20 C454.39,404.60 453.69,401.12 453.77,401.50" fill="none" stroke="#ff0036" stroke-width="2.1" stroke-linejoin="round" stroke-linecap="butt" stroke-dasharray="7.2 7.0"/>
</g>
<g clip-path="url(#clipR)">
<path d="M462.10,401.00 L462.10,226.60 C462.35,226.53 462.07,226.33 463.60,226.20 C465.13,226.07 468.25,226.32 471.30,225.80 C474.35,225.28 478.35,224.02 481.90,223.10 C485.45,222.18 489.05,221.20 492.60,220.30 C496.15,219.40 499.67,218.48 503.20,217.70 C506.73,216.92 508.48,216.43 513.80,215.60 C519.12,214.77 528.00,213.60 535.10,212.70 C542.20,211.80 549.30,211.15 556.40,210.20 C563.50,209.25 570.62,208.27 577.70,207.00 C584.78,205.73 590.93,204.42 598.90,202.60 C606.87,200.78 616.80,198.38 625.50,196.10 C634.20,193.82 642.58,190.95 651.10,188.90 C659.62,186.85 670.87,184.98 676.60,183.80 C682.33,182.62 682.10,183.15 685.50,181.80 C688.90,180.45 692.95,178.13 697.00,175.70 C701.05,173.27 705.55,170.10 709.80,167.20 C714.05,164.30 719.10,160.33 722.50,158.30 C725.90,156.27 728.07,155.68 730.20,155.00 C732.33,154.32 733.38,153.95 735.30,154.20 C737.22,154.45 739.57,154.97 741.70,156.50 C743.83,158.03 746.18,160.55 748.10,163.40 C750.02,166.25 751.50,169.35 753.20,173.60 C754.90,177.85 756.60,182.08 758.30,188.90 C760.00,195.72 761.92,205.98 763.40,214.50 C764.88,223.02 765.70,228.98 767.20,240.00 C768.70,251.02 771.17,270.60 772.40,280.60 C773.63,290.60 773.85,293.65 774.60,300.00 C775.35,306.35 775.93,312.07 776.90,318.70 C777.87,325.33 779.03,333.17 780.40,339.80 C781.77,346.43 783.33,351.87 785.10,358.50 C786.87,365.13 789.22,372.82 791.00,379.60 C792.78,386.38 794.91,395.55 795.80,399.20 C796.69,402.85 796.27,401.12 796.36,401.50" fill="none" stroke="#005600" stroke-width="2.1" stroke-linejoin="round" stroke-linecap="butt" />
<path d="M462.10,401.00 L462.10,268.80 C463.63,267.75 468.00,265.27 471.30,262.50 C474.60,259.73 478.35,255.35 481.90,252.20 C485.45,249.05 489.05,246.10 492.60,243.60 C496.15,241.10 499.67,239.00 503.20,237.20 C506.73,235.40 510.25,234.12 513.80,232.80 C517.35,231.48 520.95,230.30 524.50,229.30 C528.05,228.30 531.57,227.63 535.10,226.80 C538.63,225.97 542.15,225.08 545.70,224.30 C549.25,223.52 552.85,222.82 556.40,222.10 C559.95,221.38 563.45,220.82 567.00,220.00 C570.55,219.18 574.15,218.20 577.70,217.20 C581.25,216.20 584.77,215.13 588.30,214.00 C591.83,212.87 595.28,211.82 598.90,210.40 C602.52,208.98 605.57,207.47 610.00,205.50 C614.43,203.53 618.65,202.22 625.50,198.60 C632.35,194.98 642.58,188.60 651.10,183.80 C659.62,179.00 668.10,174.68 676.60,169.80 C685.10,164.92 694.87,158.88 702.10,154.50 C709.33,150.12 715.32,146.07 720.00,143.50 C724.68,140.93 727.65,139.95 730.20,139.10 C732.75,138.25 733.38,138.18 735.30,138.40 C737.22,138.62 739.57,139.00 741.70,140.40 C743.83,141.80 746.18,144.03 748.10,146.80 C750.02,149.57 751.50,152.95 753.20,157.00 C754.90,161.05 756.82,165.78 758.30,171.10 C759.78,176.42 760.83,182.52 762.10,188.90 C763.37,195.28 764.62,200.88 765.90,209.40 C767.18,217.92 768.37,229.48 769.80,240.00 C771.23,250.52 773.12,262.50 774.50,272.50 C775.88,282.50 776.92,293.08 778.10,300.00 C779.28,306.92 780.43,309.32 781.60,314.00 C782.77,318.68 783.73,322.63 785.10,328.10 C786.47,333.57 788.23,340.57 789.80,346.80 C791.37,353.03 792.95,359.27 794.50,365.50 C796.05,371.73 797.73,378.58 799.10,384.20 C800.47,389.82 802.01,396.32 802.70,399.20 C803.39,402.08 803.16,401.12 803.25,401.50" fill="none" stroke="#0000ff" stroke-width="2.1" stroke-linejoin="round" stroke-linecap="butt" stroke-dasharray="1.9 3.16"/>
<path d="M462.1,203.9 L462.1,401.0" fill="none" stroke="#ff0036" stroke-width="2.1" stroke-dasharray="6.9 7.2"/>
<path d="M464.60,203.00 C464.83,202.93 465.37,202.47 466.00,202.60 C466.63,202.73 467.40,203.20 468.40,203.80 C469.40,204.40 470.73,205.58 472.00,206.20 C473.27,206.82 474.35,207.18 476.00,207.50 C477.65,207.82 477.37,207.72 481.90,208.10 C486.43,208.48 496.10,209.23 503.20,209.80 C510.30,210.37 517.42,210.97 524.50,211.50 C531.58,212.03 538.62,212.58 545.70,213.00 C552.78,213.42 559.90,213.72 567.00,214.00 C574.10,214.28 582.80,214.53 588.30,214.70 C593.80,214.87 593.80,215.03 600.00,215.00 C606.20,214.97 616.98,214.58 625.50,214.50 C634.02,214.42 644.28,214.38 651.10,214.50 C657.92,214.62 661.30,215.03 666.40,215.20 C671.50,215.37 678.08,215.70 681.70,215.50 C685.32,215.30 685.55,215.45 688.10,214.00 C690.65,212.55 693.38,209.92 697.00,206.80 C700.62,203.68 705.55,198.92 709.80,195.30 C714.05,191.68 719.10,187.35 722.50,185.10 C725.90,182.85 728.07,182.43 730.20,181.80 C732.33,181.17 733.38,180.97 735.30,181.30 C737.22,181.63 739.57,182.32 741.70,183.80 C743.83,185.28 746.18,187.65 748.10,190.20 C750.02,192.75 751.72,195.47 753.20,199.10 C754.68,202.73 755.82,207.85 757.00,212.00 C758.18,216.15 759.23,219.33 760.30,224.00 C761.37,228.67 762.38,234.83 763.40,240.00 C764.42,245.17 765.38,249.17 766.40,255.00 C767.42,260.83 768.53,267.50 769.50,275.00 C770.47,282.50 771.35,292.72 772.20,300.00 C773.05,307.28 773.70,311.68 774.60,318.70 C775.50,325.72 776.45,333.52 777.60,342.10 C778.75,350.68 780.03,360.68 781.50,370.20 C782.97,379.72 785.52,393.98 786.40,399.20 C787.28,404.42 786.72,401.12 786.79,401.50" fill="none" stroke="#ff0036" stroke-width="2.1" stroke-linejoin="round" stroke-dasharray="7.2 6.88" stroke-dashoffset="0.6"/>
</g>
<text x="44.20" y="35.30" font-size="24.5" font-family="Liberation Serif, serif" text-anchor="start" fill="#000" textLength="28" lengthAdjust="spacingAndGlyphs">10</text>
<line x1="73.00" y1="18.70" x2="82.40" y2="18.70" stroke="#000" stroke-width="1.4" />
<text x="84.00" y="23.00" font-size="13.8" font-family="Liberation Sans, sans-serif" text-anchor="start" fill="#000" textLength="16.3" lengthAdjust="spacingAndGlyphs" stroke="#000" stroke-width="0.45">26</text>
<text x="44.20" y="92.30" font-size="24.5" font-family="Liberation Serif, serif" text-anchor="start" fill="#000" textLength="28" lengthAdjust="spacingAndGlyphs">10</text>
<line x1="73.00" y1="75.70" x2="82.40" y2="75.70" stroke="#000" stroke-width="1.4" />
<text x="84.00" y="80.00" font-size="13.8" font-family="Liberation Sans, sans-serif" text-anchor="start" fill="#000" textLength="16.3" lengthAdjust="spacingAndGlyphs" stroke="#000" stroke-width="0.45">27</text>
<text x="44.20" y="155.80" font-size="24.5" font-family="Liberation Serif, serif" text-anchor="start" fill="#000" textLength="28" lengthAdjust="spacingAndGlyphs">10</text>
<line x1="73.00" y1="139.20" x2="82.40" y2="139.20" stroke="#000" stroke-width="1.4" />
<text x="84.00" y="143.50" font-size="13.8" font-family="Liberation Sans, sans-serif" text-anchor="start" fill="#000" textLength="16.3" lengthAdjust="spacingAndGlyphs" stroke="#000" stroke-width="0.45">28</text>
<text x="44.20" y="219.30" font-size="24.5" font-family="Liberation Serif, serif" text-anchor="start" fill="#000" textLength="28" lengthAdjust="spacingAndGlyphs">10</text>
<line x1="73.00" y1="202.70" x2="82.40" y2="202.70" stroke="#000" stroke-width="1.4" />
<text x="84.00" y="207.00" font-size="13.8" font-family="Liberation Sans, sans-serif" text-anchor="start" fill="#000" textLength="16.3" lengthAdjust="spacingAndGlyphs" stroke="#000" stroke-width="0.45">29</text>
<text x="44.20" y="282.80" font-size="24.5" font-family="Liberation Serif, serif" text-anchor="start" fill="#000" textLength="28" lengthAdjust="spacingAndGlyphs">10</text>
<line x1="73.00" y1="266.20" x2="82.40" y2="266.20" stroke="#000" stroke-width="1.4" />
<text x="84.00" y="270.50" font-size="13.8" font-family="Liberation Sans, sans-serif" text-anchor="start" fill="#000" textLength="16.3" lengthAdjust="spacingAndGlyphs" stroke="#000" stroke-width="0.45">30</text>
<text x="44.20" y="346.30" font-size="24.5" font-family="Liberation Serif, serif" text-anchor="start" fill="#000" textLength="28" lengthAdjust="spacingAndGlyphs">10</text>
<line x1="73.00" y1="329.70" x2="82.40" y2="329.70" stroke="#000" stroke-width="1.4" />
<text x="84.00" y="334.00" font-size="13.8" font-family="Liberation Sans, sans-serif" text-anchor="start" fill="#000" textLength="16.3" lengthAdjust="spacingAndGlyphs" stroke="#000" stroke-width="0.45">31</text>
<text x="44.20" y="400.30" font-size="24.5" font-family="Liberation Serif, serif" text-anchor="start" fill="#000" textLength="28" lengthAdjust="spacingAndGlyphs">10</text>
<line x1="73.00" y1="383.70" x2="82.40" y2="383.70" stroke="#000" stroke-width="1.4" />
<text x="84.00" y="388.00" font-size="13.8" font-family="Liberation Sans, sans-serif" text-anchor="start" fill="#000" textLength="16.3" lengthAdjust="spacingAndGlyphs" stroke="#000" stroke-width="0.45">32</text>
<text x="126.80" y="432.80" font-size="24.5" font-family="Liberation Serif, serif" text-anchor="start" fill="#000" textLength="63.7" lengthAdjust="spacingAndGlyphs">0.001</text>
<text x="233.40" y="432.80" font-size="24.5" font-family="Liberation Serif, serif" text-anchor="start" fill="#000" textLength="49.7" lengthAdjust="spacingAndGlyphs">0.01</text>
<text x="339.80" y="432.80" font-size="24.5" font-family="Liberation Serif, serif" text-anchor="start" fill="#000" textLength="35.2" lengthAdjust="spacingAndGlyphs">0.1</text>
<text x="450.40" y="432.80" font-size="24.5" font-family="Liberation Serif, serif" text-anchor="start" fill="#000" textLength="12.5" lengthAdjust="spacingAndGlyphs">1</text>
<text x="476.30" y="432.80" font-size="24.5" font-family="Liberation Serif, serif" text-anchor="start" fill="#000" textLength="63.7" lengthAdjust="spacingAndGlyphs">0.001</text>
<text x="581.90" y="432.80" font-size="24.5" font-family="Liberation Serif, serif" text-anchor="start" fill="#000" textLength="49.7" lengthAdjust="spacingAndGlyphs">0.01</text>
<text x="688.90" y="432.80" font-size="24.5" font-family="Liberation Serif, serif" text-anchor="start" fill="#000" textLength="35.2" lengthAdjust="spacingAndGlyphs">0.1</text>
<text x="799.60" y="432.80" font-size="24.5" font-family="Liberation Serif, serif" text-anchor="start" fill="#000" textLength="12.5" lengthAdjust="spacingAndGlyphs">1</text>
<text transform="translate(247.10,461.10) scale(1.28,1)" x="0" y="0" font-size="27" font-family="Liberation Serif, serif" font-style="italic" text-anchor="middle" fill="#000" >a</text>
<text transform="translate(270.90,462.00) scale(1.0,1)" x="0" y="0" font-size="30" font-family="Liberation Serif, serif"  text-anchor="middle" fill="#000" >[</text>
<text transform="translate(283.00,461.10) scale(1.12,1)" x="0" y="0" font-size="27" font-family="Liberation Serif, serif" font-style="italic" text-anchor="middle" fill="#000" >μ</text>
<text transform="translate(302.10,461.10) scale(1.23,1)" x="0" y="0" font-size="25.5" font-family="Liberation Serif, serif"  text-anchor="middle" fill="#000" >m</text>
<text transform="translate(320.90,462.00) scale(1.0,1)" x="0" y="0" font-size="30" font-family="Liberation Serif, serif"  text-anchor="middle" fill="#000" >]</text>
<text transform="translate(596.00,461.10) scale(1.28,1)" x="0" y="0" font-size="27" font-family="Liberation Serif, serif" font-style="italic" text-anchor="middle" fill="#000" >a</text>
<text transform="translate(619.80,462.00) scale(1.0,1)" x="0" y="0" font-size="30" font-family="Liberation Serif, serif"  text-anchor="middle" fill="#000" >[</text>
<text transform="translate(631.90,461.10) scale(1.12,1)" x="0" y="0" font-size="27" font-family="Liberation Serif, serif" font-style="italic" text-anchor="middle" fill="#000" >μ</text>
<text transform="translate(651.00,461.10) scale(1.23,1)" x="0" y="0" font-size="25.5" font-family="Liberation Serif, serif"  text-anchor="middle" fill="#000" >m</text>
<text transform="translate(669.80,462.00) scale(1.0,1)" x="0" y="0" font-size="30" font-family="Liberation Serif, serif"  text-anchor="middle" fill="#000" >]</text>
<g transform="translate(24.5,365.4) rotate(-90)">
<text transform="translate(6.90,0.00) scale(1.22,1)" x="0" y="0" font-size="27" font-family="Liberation Serif, serif" font-style="italic" text-anchor="middle" fill="#000" >a</text>
<text transform="translate(15.90,-13.00) scale(1.15,1)" x="0" y="0" font-size="12.5" font-family="Liberation Sans, sans-serif"  text-anchor="middle" fill="#000" stroke="#000" stroke-width="0.3">4</text>
<text transform="translate(28.20,0.00) scale(1.15,1)" x="0" y="0" font-size="27" font-family="Liberation Serif, serif" font-style="italic" text-anchor="middle" fill="#000" >n</text>
<text transform="translate(40.80,0.60) scale(0.9,1)" x="0" y="0" font-size="28.7" font-family="Liberation Serif, serif"  text-anchor="middle" fill="#000" >(</text>
<text transform="translate(53.70,0.00) scale(1.22,1)" x="0" y="0" font-size="27" font-family="Liberation Serif, serif" font-style="italic" text-anchor="middle" fill="#000" >a</text>
<text transform="translate(66.10,0.60) scale(0.9,1)" x="0" y="0" font-size="28.7" font-family="Liberation Serif, serif"  text-anchor="middle" fill="#000" >)</text>
<line x1="74.2" y1="4.2" x2="86.9" y2="-19.6" stroke="#000" stroke-width="1.35"/>
<text transform="translate(97.20,0.00) scale(1.15,1)" x="0" y="0" font-size="27" font-family="Liberation Serif, serif" font-style="italic" text-anchor="middle" fill="#000" >n</text>
<text transform="translate(110.40,5.00) scale(0.85,1)" x="0" y="0" font-size="15.5" font-family="Liberation Serif, serif"  text-anchor="middle" fill="#000" >H</text>
<text transform="translate(134.20,0.90) scale(1.0,1)" x="0" y="0" font-size="30.5" font-family="Liberation Serif, serif"  text-anchor="middle" fill="#000" >[</text>
<text transform="translate(145.20,0.00) scale(1.08,1)" x="0" y="0" font-size="25.5" font-family="Liberation Serif, serif"  text-anchor="middle" fill="#000" >g</text>
<text transform="translate(158.00,0.00) scale(1.1,1)" x="0" y="0" font-size="25.5" font-family="Liberation Serif, serif"  text-anchor="middle" fill="#000" >r</text>
<text transform="translate(170.90,0.00) scale(1.18,1)" x="0" y="0" font-size="25.5" font-family="Liberation Serif, serif"  text-anchor="middle" fill="#000" >a</text>
<text transform="translate(182.40,0.00) scale(1.0,1)" x="0" y="0" font-size="25.5" font-family="Liberation Serif, serif"  text-anchor="middle" fill="#000" >i</text>
<text transform="translate(194.30,0.00) scale(1.1,1)" x="0" y="0" font-size="25.5" font-family="Liberation Serif, serif"  text-anchor="middle" fill="#000" >n</text>
<text transform="translate(207.70,0.00) scale(1.1,1)" x="0" y="0" font-size="25.5" font-family="Liberation Serif, serif"  text-anchor="middle" fill="#000" >s</text>
<line x1="215.0" y1="4.2" x2="227.7" y2="-19.6" stroke="#000" stroke-width="1.35"/>
<text transform="translate(237.90,0.00) scale(1.0,1)" x="0" y="0" font-size="24.5" font-family="Liberation Serif, serif"  text-anchor="middle" fill="#000" >H</text>
<text transform="translate(265.40,0.00) scale(1.0,1)" x="0" y="0" font-size="25.5" font-family="Liberation Serif, serif"  text-anchor="middle" fill="#000" >c</text>
<text transform="translate(281.20,0.00) scale(0.95,1)" x="0" y="0" font-size="25.5" font-family="Liberation Serif, serif"  text-anchor="middle" fill="#000" >m</text>
<text transform="translate(298.80,-13.00) scale(1.15,1)" x="0" y="0" font-size="12.5" font-family="Liberation Sans, sans-serif"  text-anchor="middle" fill="#000" stroke="#000" stroke-width="0.3">3</text>
<text transform="translate(308.00,0.90) scale(1.0,1)" x="0" y="0" font-size="30.5" font-family="Liberation Serif, serif"  text-anchor="middle" fill="#000" >]</text>
</g>
<text transform="translate(127.80,51.10) scale(0.95,1)" x="0" y="0" font-size="28.5" font-family="Liberation Serif, serif"  text-anchor="middle" fill="#000" stroke="#000" stroke-width="0.7" stroke-linejoin="round">g</text>
<text transform="translate(145.10,51.10) scale(1.08,1)" x="0" y="0" font-size="28.5" font-family="Liberation Serif, serif"  text-anchor="middle" fill="#000" stroke="#000" stroke-width="0.7" stroke-linejoin="round">a</text>
<text transform="translate(158.80,51.10) scale(1.0,1)" x="0" y="0" font-size="28.5" font-family="Liberation Serif, serif"  text-anchor="middle" fill="#000" stroke="#000" stroke-width="0.7" stroke-linejoin="round">l</text>
<text transform="translate(172.20,51.10) scale(1.08,1)" x="0" y="0" font-size="28.5" font-family="Liberation Serif, serif"  text-anchor="middle" fill="#000" stroke="#000" stroke-width="0.7" stroke-linejoin="round">a</text>
<text transform="translate(189.20,51.10) scale(1.06,1)" x="0" y="0" font-size="28.5" font-family="Liberation Serif, serif"  text-anchor="middle" fill="#000" stroke="#000" stroke-width="0.7" stroke-linejoin="round">x</text>
<text transform="translate(204.90,51.10) scale(1.1,1)" x="0" y="0" font-size="28.5" font-family="Liberation Serif, serif"  text-anchor="middle" fill="#000" stroke="#000" stroke-width="0.7" stroke-linejoin="round">y</text>
<text transform="translate(479.30,62.30) scale(0.88,1)" x="0" y="0" font-size="28.5" font-family="Liberation Serif, serif" font-weight="bold" text-anchor="middle" fill="#000" >C</text>
<text transform="translate(499.20,62.30) scale(0.86,1)" x="0" y="0" font-size="28.5" font-family="Liberation Serif, serif" font-weight="bold" text-anchor="middle" fill="#000" >G</text>
<text transform="translate(519.00,62.30) scale(0.66,1)" x="0" y="0" font-size="28.5" font-family="Liberation Serif, serif" font-weight="bold" text-anchor="middle" fill="#000" >M</text>
<text transform="translate(124.90,370.10) scale(0.9,1)" x="0" y="0" font-size="31.6" font-family="Liberation Serif, serif"  text-anchor="middle" fill="#111" >(</text>
<text transform="translate(140.40,369.50) scale(1.12,1)" x="0" y="0" font-size="25.5" font-family="Liberation Serif, serif"  text-anchor="middle" fill="#111" >b</text>
<text transform="translate(153.10,370.10) scale(0.9,1)" x="0" y="0" font-size="31.6" font-family="Liberation Serif, serif"  text-anchor="middle" fill="#111" >)</text>
<text x="259.00" y="52.00" font-size="19.5" font-family="Liberation Serif, serif" text-anchor="start" fill="#4a4a4a" textLength="40.5" lengthAdjust="spacingAndGlyphs">MRN</text>
<text x="310.00" y="52.00" font-size="19.5" font-family="Liberation Serif, serif" text-anchor="start" fill="#4a4a4a" textLength="51.3" lengthAdjust="spacingAndGlyphs">slope</text>
<text x="538.60" y="42.80" font-size="22" font-family="Liberation Serif, serif" text-anchor="start" fill="#6e6e6e" textLength="82.0" lengthAdjust="spacingAndGlyphs" >Density</text>
<text x="634.20" y="42.80" font-size="22" font-family="Liberation Serif, serif" text-anchor="start" fill="#6e6e6e" textLength="20.5" lengthAdjust="spacingAndGlyphs" >of</text>
<text x="667.60" y="42.80" font-size="22" font-family="Liberation Serif, serif" text-anchor="start" fill="#6e6e6e" textLength="46.5" lengthAdjust="spacingAndGlyphs" >cool</text>
<text x="725.60" y="42.80" font-size="22" font-family="Liberation Serif, serif" text-anchor="start" fill="#6e6e6e" textLength="36.5" lengthAdjust="spacingAndGlyphs" >gas</text>
<line x1="538.90" y1="67.65" x2="586.10" y2="67.65" stroke="#005600" stroke-width="2.2" />
<text x="587.30" y="75.50" font-size="23" font-family="Liberation Serif, serif" text-anchor="start" fill="#6e6e6e" textLength="31.5" lengthAdjust="spacingAndGlyphs" >0.1</text>
<text x="632.30" y="75.50" font-size="23" font-family="Liberation Serif, serif" text-anchor="start" fill="#6e6e6e" textLength="34.2" lengthAdjust="spacingAndGlyphs" >cm</text>
<line x1="669.00" y1="61.60" x2="676.20" y2="61.60" stroke="#6e6e6e" stroke-width="1.25" />
<text x="678.00" y="65.70" font-size="12.5" font-family="Liberation Sans, sans-serif" text-anchor="start" fill="#6e6e6e" stroke="#6e6e6e" stroke-width="0.3">3</text>
<text transform="translate(702.00,76.00) scale(0.95,1)" x="0" y="0" font-size="26.6" font-family="Liberation Serif, serif"  text-anchor="middle" fill="#6e6e6e" >(</text>
<text x="706.80" y="75.50" font-size="23" font-family="Liberation Serif, serif" text-anchor="start" fill="#6e6e6e" textLength="86.5" lengthAdjust="spacingAndGlyphs" >fiducial</text>
<text transform="translate(797.30,76.00) scale(0.95,1)" x="0" y="0" font-size="26.6" font-family="Liberation Serif, serif"  text-anchor="middle" fill="#6e6e6e" >)</text>
<line x1="538.85" y1="92.90" x2="586.30" y2="92.90" stroke="#0000ff" stroke-width="2.2" stroke-dasharray="1.9 3.16"/>
<text x="587.30" y="100.30" font-size="23" font-family="Liberation Serif, serif" text-anchor="start" fill="#6e6e6e" textLength="46.0" lengthAdjust="spacingAndGlyphs" >0.01</text>
<text x="645.60" y="100.30" font-size="23" font-family="Liberation Serif, serif" text-anchor="start" fill="#6e6e6e" textLength="34.2" lengthAdjust="spacingAndGlyphs" >cm</text>
<line x1="682.70" y1="86.40" x2="689.90" y2="86.40" stroke="#6e6e6e" stroke-width="1.25" />
<text x="691.70" y="90.50" font-size="12.5" font-family="Liberation Sans, sans-serif" text-anchor="start" fill="#6e6e6e" stroke="#6e6e6e" stroke-width="0.3">3</text>
<line x1="538.90" y1="118.00" x2="586.40" y2="118.00" stroke="#ff0036" stroke-width="2.3000000000000003" stroke-dasharray="7.2 7.0"/>
<text x="588.20" y="125.30" font-size="23" font-family="Liberation Serif, serif" text-anchor="start" fill="#6e6e6e" textLength="12.0" lengthAdjust="spacingAndGlyphs" >1</text>
<text x="612.30" y="125.30" font-size="23" font-family="Liberation Serif, serif" text-anchor="start" fill="#6e6e6e" textLength="34.2" lengthAdjust="spacingAndGlyphs" >cm</text>
<line x1="649.10" y1="111.80" x2="656.30" y2="111.80" stroke="#6e6e6e" stroke-width="1.25" />
<text x="658.10" y="115.90" font-size="12.5" font-family="Liberation Sans, sans-serif" text-anchor="start" fill="#6e6e6e" stroke="#6e6e6e" stroke-width="0.3">3</text>
</g>
</svg>
</body></html>
